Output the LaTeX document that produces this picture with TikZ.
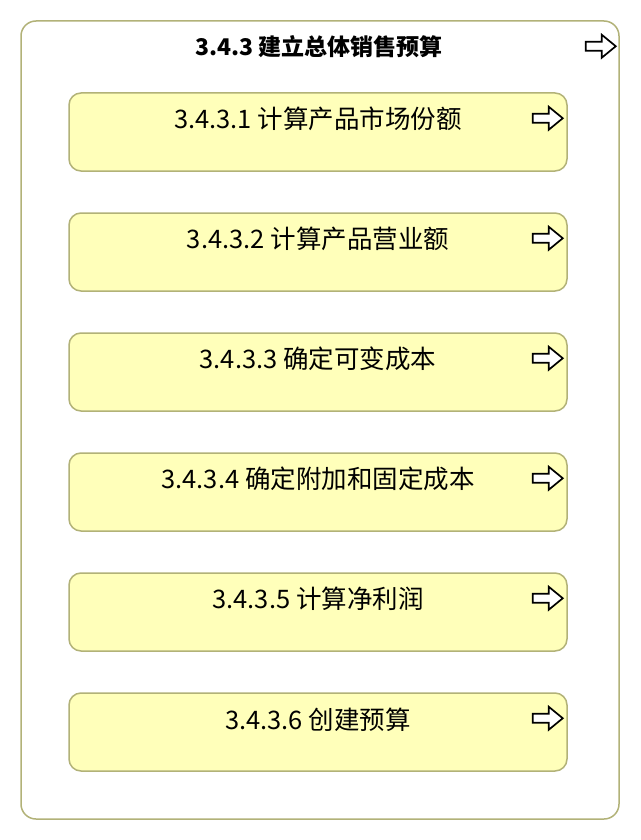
\documentclass[tikz,border=0pt]{standalone}
\usepackage{fontspec}
\setmainfont{Noto Sans CJK SC}
\usetikzlibrary{calc}
\definecolor{ProcClr}{rgb}{1,1,0.73}
\definecolor{EdgeClr}{rgb}{0.7,0.7,0.47}

\begin{document}
\begin{tikzpicture}[x=1pt,y=-1pt,
  groupbox/.style={draw=EdgeClr,line width=1.5pt,fill=white,rounded corners=15pt,
    minimum width=598pt,minimum height=798pt,inner sep=0pt},
  procbox/.style={draw=EdgeClr,line width=1.5pt,fill=ProcClr,rounded corners=12pt,
    minimum width=498pt,minimum height=78pt,inner sep=0pt},
  proctext/.style={font=\fontsize{25.5}{30}\selectfont},
  grouptext/.style={font=\bfseries\fontsize{23}{27}\selectfont},
  flowicon/.pic={\draw[line width=1.7pt,line join=miter,fill=white]
    (0,-4.5) -- (16,-4.5) -- (16,-11.5) -- (30,0) -- (16,11.5) -- (16,4.5) -- (0,4.5) -- cycle;}]
\useasboundingbox (0,0) rectangle (640,840);

% group
\node[groupbox] (grp) at (320,420) {};
\node[grouptext] (grpT) at (319,47) {3.4.3 建立总体销售预算};
\pic at ($(grp.north east)+(-34,26)$) {flowicon};

% processes
\node[procbox] (p1) at (318,132) {};
\node[procbox] (p2) at (318,252) {};
\node[procbox] (p3) at (318,372) {};
\node[procbox] (p4) at (318,492) {};
\node[procbox] (p5) at (318,612) {};
\node[procbox] (p6) at (318,732) {};

\node[proctext] (p1T) at ($(p1.north)+(0,27)$) {3.4.3.1 计算产品市场份额};
\node[proctext] (p2T) at ($(p2.north)+(0,27)$) {3.4.3.2 计算产品营业额};
\node[proctext] (p3T) at ($(p3.north)+(0,27)$) {3.4.3.3 确定可变成本};
\node[proctext] (p4T) at ($(p4.north)+(0,27)$) {3.4.3.4 确定附加和固定成本};
\node[proctext] (p5T) at ($(p5.north)+(0,27)$) {3.4.3.5 计算净利润};
\node[proctext] (p6T) at ($(p6.north)+(0,27)$) {3.4.3.6 创建预算};

\pic at ($(p1.north east)+(-35,26)$) {flowicon};
\pic at ($(p2.north east)+(-35,26)$) {flowicon};
\pic at ($(p3.north east)+(-35,26)$) {flowicon};
\pic at ($(p4.north east)+(-35,26)$) {flowicon};
\pic at ($(p5.north east)+(-35,26)$) {flowicon};
\pic at ($(p6.north east)+(-35,26)$) {flowicon};

\end{tikzpicture}
\end{document}
